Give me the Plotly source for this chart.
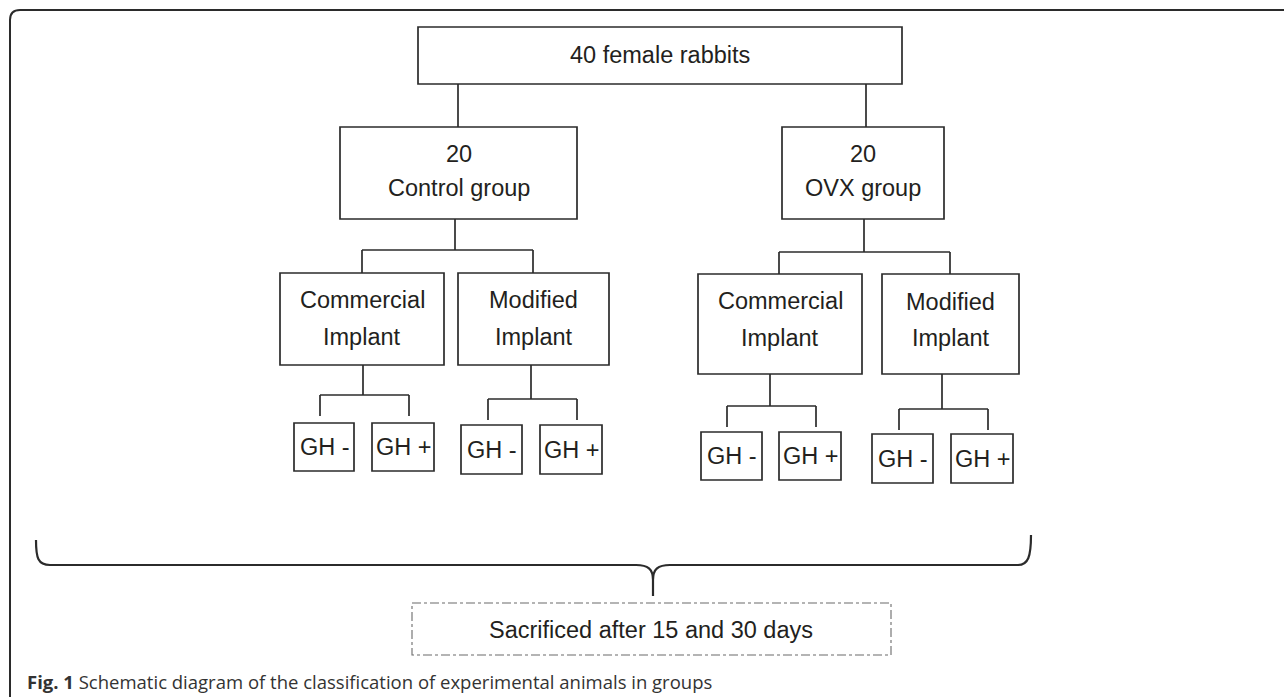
import plotly.graph_objects as go

# ---- content (text of the diagram) ----
root_label = "40 female rabbits"
group_counts = ["20", "20"]
group_names = ["Control group", "OVX group"]
implant_line1 = ["Commercial", "Modified"]
implant_line2 = ["Implant", "Implant"]
gh_labels = ["GH -", "GH +"]
outcome_label = "Sacrificed after 15 and 30 days"
caption_bold = "Fig. 1"
caption_text = " Schematic diagram of the classification of experimental animals in groups"

# ---- layout geometry (pixels, y downwards) ----
W, H = 1284, 697
LINE = "#2b2b2b"
TXT = "#231f20"
FONT = "Liberation Sans, Arial, sans-serif"
FS = 23.5

root_box = (418, 902, 27, 84)
group_boxes = [(340, 577, 127, 219), (782, 944, 127, 219)]
implant_boxes = [
    [(280, 444, 273, 365), (458, 609, 273, 365)],
    [(698, 862, 274, 374), (882, 1019, 274, 374)],
]
gh_boxes = [
    [[(294, 354, 423, 471), (372, 434, 423, 471)],
     [(461, 522, 425, 474), (540, 602, 425, 474)]],
    [[(701, 762, 432, 480), (779, 841, 432, 480)],
     [(872, 933, 434, 483), (951, 1013, 434, 483)]],
]

shapes = []
annotations = []


def rect(b, color=LINE, width=1.7, dash="solid"):
    shapes.append(dict(type="rect", xref="x", yref="y", x0=b[0], x1=b[1], y0=b[2], y1=b[3],
                       line=dict(color=color, width=width, dash=dash), fillcolor="rgba(0,0,0,0)"))


def seg(x0, y0, x1, y1, width=1.7):
    shapes.append(dict(type="line", xref="x", yref="y", x0=x0, y0=y0, x1=x1, y1=y1,
                       line=dict(color=LINE, width=width)))


def text(x, y, s, size=FS, font=FONT, anchor="center", color=TXT):
    annotations.append(dict(x=x, y=y, xref="x", yref="y", text=s, showarrow=False,
                            xanchor=anchor, yanchor="middle",
                            font=dict(family=font, size=size, color=color)))


def bracket(cx, ytop, ybar, xl, xr, ydrop):
    seg(cx, ytop, cx, ybar)
    seg(xl, ybar, xr, ybar)
    seg(xl, ybar, xl, ydrop)
    seg(xr, ybar, xr, ydrop)


# outer frame (rounded top-left corner, open on right and bottom)
shapes.append(dict(type="path", xref="x", yref="y",
                   path="M 10,700 L 10,20 Q 10,10 20,10 L 1290,10",
                   line=dict(color=LINE, width=2)))

# root
rect(root_box)
text((root_box[0] + root_box[1]) / 2, 55, root_label)
seg(458, 84, 458, 127)
seg(866, 84, 866, 127)

# groups
for g, b in enumerate(group_boxes):
    rect(b)
    cx = (b[0] + b[1]) / 2
    text(cx, 154, group_counts[g])
    text(cx, 188, group_names[g])

bracket(455, 219, 250, 362, 533, 273)
bracket(864, 219, 252, 779, 950, 274)

# implants
text_y = [[(300, 337), (300, 337)], [(301, 338), (302, 338)]]
for g in range(2):
    for k in range(2):
        b = implant_boxes[g][k]
        rect(b)
        cx = (b[0] + b[1]) / 2
        text(cx, text_y[g][k][0], implant_line1[k])
        text(cx, text_y[g][k][1], implant_line2[k])

# GH brackets
bracket(363, 365, 395, 320, 409, 416)
bracket(531, 365, 399, 488, 577, 420)
bracket(770, 374, 406, 727, 816, 427)
bracket(942, 374, 409, 899, 988, 430)

for g in range(2):
    for k in range(2):
        for j in range(2):
            b = gh_boxes[g][k][j]
            rect(b)
            text((b[0] + b[1]) / 2 + 0.5, (b[2] + b[3]) / 2, gh_labels[j])

# curly brace
shapes.append(dict(type="path", xref="x", yref="y",
                   path=("M 36,540 C 36,558 38,565 50,565 L 636,565 "
                         "C 648,565 653,569 653,580 L 653,596 "
                         "M 653,580 C 653,569 658,565 670,565 L 1018,565 "
                         "C 1028,565 1031,557 1031,535"),
                   line=dict(color=LINE, width=2.2)))

# outcome box
rect((412, 891, 603, 655), color="#6b6b6b", width=1.1, dash="dashdot")
text(651, 630, outcome_label)

# caption
annotations.append(dict(x=25, y=681, xref="x", yref="y", showarrow=False,
                        xanchor="left", yanchor="middle",
                        text=f"<b>{caption_bold}</b>{caption_text}",
                        font=dict(family="Open Sans, Noto Sans, sans-serif", size=18.5, color="#333333")))

fig = go.Figure()
fig.update_layout(
    width=W, height=H,
    margin=dict(l=0, r=0, t=0, b=0),
    paper_bgcolor="white", plot_bgcolor="white",
    xaxis=dict(range=[0, W], visible=False, fixedrange=True),
    yaxis=dict(range=[H, 0], visible=False, fixedrange=True),
    shapes=shapes, annotations=annotations,
    showlegend=False,
)

fig.write_html("out.html", config={"displayModeBar": False},
               post_script="document.body.style.margin='0';")
